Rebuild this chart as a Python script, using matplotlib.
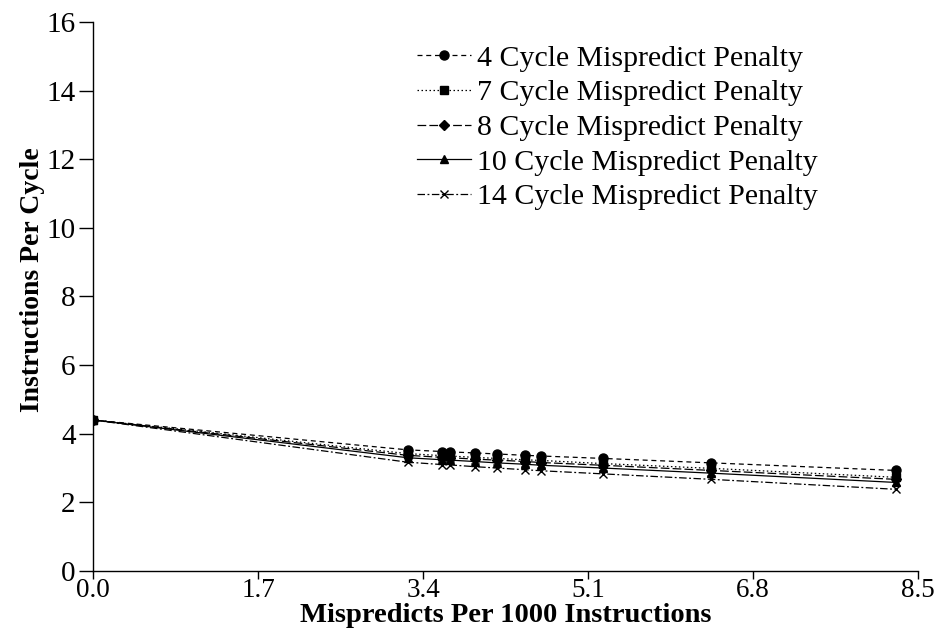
import matplotlib
matplotlib.use("Agg")
import matplotlib.pyplot as plt

plt.rcParams['font.family'] = ['Liberation Serif', 'DejaVu Serif']

# Mispredicts per 1000 instructions for each benchmark run
mispredicts = [0.0, 3.24, 3.60, 3.68, 3.93, 4.16, 4.45, 4.62, 5.25, 6.37, 8.27]

# IPC for each misprediction penalty
ipc_4 = [4.40, 3.53, 3.48, 3.47, 3.44, 3.41, 3.37, 3.35, 3.28, 3.15, 2.93]
ipc_7 = [4.40, 3.42, 3.36, 3.35, 3.31, 3.28, 3.24, 3.22, 3.13, 2.99, 2.73]
ipc_8 = [4.40, 3.37, 3.31, 3.30, 3.26, 3.23, 3.19, 3.16, 3.08, 2.93, 2.67]
ipc_10 = [4.40, 3.30, 3.24, 3.23, 3.19, 3.15, 3.11, 3.08, 3.00, 2.85, 2.58]
ipc_14 = [4.40, 3.17, 3.10, 3.09, 3.04, 3.00, 2.95, 2.92, 2.83, 2.67, 2.38]

labels = ["4 Cycle Mispredict Penalty", "7 Cycle Mispredict Penalty",
          "8 Cycle Mispredict Penalty", "10 Cycle Mispredict Penalty",
          "14 Cycle Mispredict Penalty"]

x_ticks = [0.0, 1.7, 3.4, 5.1, 6.8, 8.5]
y_ticks = [0, 2, 4, 6, 8, 10, 12, 14, 16]

fig = plt.figure(figsize=(9.34, 6.43), dpi=100)
ax = fig.add_axes([0.0996, 0.112, 0.8834, 0.854])

styles = [
    (ipc_4, (0, (4, 3)), 'o', 6.5),
    (ipc_7, (0, (1.2, 2)), 's', 6.0),
    (ipc_8, (0, (7, 2.5)), 'D', 5.0),
    (ipc_10, '-', '^', 6.0),
    (ipc_14, (0, (6, 2, 1.5, 2)), 'x', 6.0),
]
zorders = [3, 6, 4, 4, 3]
for (vals, ls, mk, ms), lab, z in zip(styles, labels, zorders):
    ax.plot(mispredicts, vals, color='black', linestyle=ls, linewidth=0.9,
            marker=mk, markersize=ms, markeredgewidth=1.0, label=lab, zorder=z)

ax.set_xlim(0, 8.5)
ax.set_ylim(0, 16)
ax.set_xticks(x_ticks)
ax.set_xticklabels([f"{v:.1f}" for v in x_ticks])
ax.set_yticks(y_ticks)

for side in ('top', 'right'):
    ax.spines[side].set_visible(False)
for side in ('left', 'bottom'):
    ax.spines[side].set_linewidth(1.0)

ax.tick_params(axis='y', direction='out', length=10, width=1.0,
               labelsize=21, pad=2.5)
ax.tick_params(axis='x', direction='out', length=6, width=1.0,
               labelsize=19.5, pad=-1)

ax.set_xlabel("Mispredicts Per 1000 Instructions", fontsize=20.5,
              fontweight='bold', labelpad=0)
ax.set_ylabel("Instructions Per Cycle", fontsize=20, fontweight='bold')
ax.yaxis.set_label_coords(-0.058, 0.53)

leg = ax.legend(loc='upper left', bbox_to_anchor=(0.378, 0.98), frameon=False,
                fontsize=21.5, handlelength=1.8, handletextpad=0.2,
                labelspacing=0.26, borderaxespad=0.0)

fig.savefig("out.png", dpi=100)
